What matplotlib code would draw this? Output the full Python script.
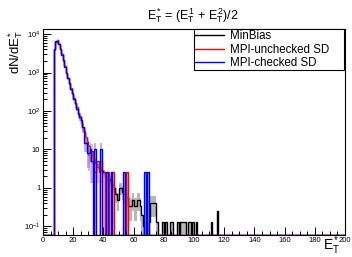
import numpy as np
import matplotlib
matplotlib.use('Agg')
import matplotlib.pyplot as plt
from matplotlib.ticker import FixedLocator, MultipleLocator, NullFormatter

plt.rcParams['font.family'] = ['Liberation Sans', 'DejaVu Sans']
plt.rcParams['mathtext.fontset'] = 'custom'
plt.rcParams['mathtext.rm'] = 'Liberation Sans'
plt.rcParams['mathtext.it'] = 'Liberation Sans'
plt.rcParams['mathtext.bf'] = 'Liberation Sans:bold'

# histogram: 200 bins of width 1 from 0 to 200, filled bins given as (bin start, content)
minbias_bins = [7, 8, 9, 10, 11, 12, 13, 14, 15, 16, 17, 18, 19, 20, 21, 22, 23, 24, 25, 26,
                27, 28, 29, 30, 31, 32, 33, 34, 35, 36, 37, 38, 39, 40, 41, 42, 43, 44, 45, 46,
                47, 48, 49, 50, 51, 52, 53, 54, 55, 56, 57, 58, 59, 60, 61, 62, 63, 64, 65, 66,
                68, 70, 71, 72, 73, 74, 75, 79, 81, 84, 85, 89, 91, 92, 93, 94, 96, 97, 99, 101,
                111, 115]
minbias_vals = [4000, 6300, 6800, 5600, 4200, 3000, 2100, 1450, 1000, 720, 520, 380, 280, 210, 160, 120, 88, 66, 50, 38,
                28, 21, 16, 12, 8.5, 7, 6, 5, 4.3, 3.6, 3.3, 3.0, 2.7, 2.4, 2.2, 2.0, 1.8, 1.6, 1.4, 1.2,
                1.0, 0.7, 0.5, 1.0, 1.0, 0.8, 0.7, 0.7, 0.6, 0.35, 0.35, 0.35, 0.5, 0.35, 0.35, 0.5, 0.5, 0.35, 0.2, 0.1,
                0.13, 0.13, 0.4, 0.4, 0.4, 0.4, 0.13, 0.13, 0.13, 0.13, 0.13, 0.13, 0.13, 0.13, 0.13, 0.13, 0.13, 0.13, 0.13, 0.13,
                0.13, 0.25]

unchecked_bins = [7, 8, 9, 10, 11, 12, 13, 14, 15, 16, 17, 18, 19, 20, 21, 22, 23, 24, 25, 26,
                  27, 28, 29, 30, 31, 32, 33, 34, 35, 36, 37, 38, 39, 40, 42, 43, 45, 46, 55]
unchecked_vals = [3900, 6200, 6900, 5500, 4100, 3100, 2000, 1500, 980, 740, 500, 390, 270, 220, 150, 125, 90, 75, 55, 36,
                  30, 20, 15, 7, 5, 9, 5, 2.65, 5, 5, 2.65, 5, 2.65, 2.65, 2.65, 2.65, 2.65, 2.65, 2.65]

checked_bins = [7, 8, 9, 10, 11, 12, 13, 14, 15, 16, 17, 18, 19, 20, 21, 22, 23, 24, 25, 26,
                27, 28, 29, 30, 31, 32, 34, 38, 42, 45, 53, 67, 69]
checked_vals = [4000, 6400, 6700, 5600, 4200, 2900, 2100, 1400, 1000, 700, 530, 370, 290, 200, 165, 115, 85, 70, 60, 38,
                15, 15, 8, 8, 10, 5, 10, 10, 2.65, 2.65, 2.65, 2.65, 2.65]

labels = ['MinBias', 'MPI-unchecked SD', 'MPI-checked SD']
colors = ['black', 'red', 'blue']
band_colors = ['#888888', '#ff8080', '#8080ff']
event_weight = [0.13, 2.65, 2.65]

ybot, ytop = 0.06, 1.35e4
edges = np.arange(0, 201, 1)

fig = plt.figure(figsize=(3.52, 2.57), dpi=100)
ax = fig.add_axes([43 / 352, 1 - 235 / 257, 302 / 352, 206 / 257])

series = [(minbias_bins, minbias_vals), (unchecked_bins, unchecked_vals), (checked_bins, checked_vals)]
for (bins, vals), lab, col, bcol, w in zip(series, labels, colors, band_colors, event_weight):
    h = np.zeros(200)
    h[np.array(bins)] = vals
    err = np.sqrt(h * w)
    lo = np.clip(h - err, ybot, None)
    hi = np.where(h > 2.5 * w, h + err, h)
    hi = np.clip(hi, ybot, None)
    ax.stairs(hi, edges, baseline=lo, fill=True, color=bcol, alpha=0.6, lw=0)
    ax.stairs(np.clip(h, ybot, None), edges, baseline=None, color=col, lw=1.0, label=lab)

ax.set_yscale('log')
ax.set_xlim(0, 200)
ax.set_ylim(ybot, ytop)

ax.xaxis.set_major_locator(MultipleLocator(20))
ax.xaxis.set_minor_locator(MultipleLocator(5))
ax.yaxis.set_major_locator(FixedLocator([0.1, 1, 10, 100, 1000, 10000]))
ax.set_yticklabels(['$10^{-1}$', '1', '10', '$10^{2}$', '$10^{3}$', '$10^{4}$'])
minor = [m * 10.0 ** e for e in range(-2, 5) for m in range(2, 10)]
ax.yaxis.set_minor_locator(FixedLocator(minor))
ax.yaxis.set_minor_formatter(NullFormatter())
ax.tick_params(which='both', direction='in', top=False, right=False, labelsize=5.5, width=0.7)
ax.tick_params(which='major', length=6)
ax.tick_params(which='minor', length=3)
ax.tick_params(axis='x', pad=1.5)
ax.tick_params(axis='y', pad=2)
for s in ax.spines.values():
    s.set_linewidth(0.8)

# legend box spans right half of the frame, text left-aligned
leg = ax.legend(loc='upper left', bbox_to_anchor=(0.5, 0.0, 0.497, 1.0), mode='expand',
                borderaxespad=0, fancybox=False, edgecolor='black', framealpha=1, fontsize=8.3,
                handlelength=2.5, labelspacing=0.1, borderpad=0.12, handletextpad=0.5)
leg.get_frame().set_linewidth(0.8)

fig.text(0.548, 0.94, r'$E_{T}^{*}$ = ($E_{T}^{1}$ + $E_{T}^{2}$)/2', ha='center', va='center', fontsize=9)
fig.text(0.045, 0.885, r'dN/d$E_{T}^{*}$', rotation=90, ha='center', va='top', fontsize=9.5)
fig.text(0.965, 0.0, r'$E_{T}^{*}$', ha='right', va='bottom', fontsize=10)

fig.savefig('out.png', dpi=100)
plt.close(fig)
